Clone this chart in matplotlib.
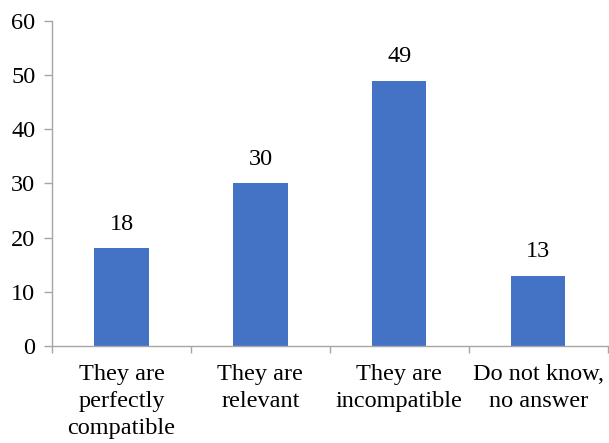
import matplotlib
matplotlib.use('Agg')
from matplotlib import pyplot as plt
import numpy as np

plt.rcParams['font.family'] = ['Liberation Serif', 'DejaVu Serif']

categories = ['They are\nperfectly\ncompatible', 'They are\nrelevant',
              'They are\nincompatible', 'Do not know,\nno answer']
values = [18, 30, 49, 13]
yticks = [0, 10, 20, 30, 40, 50, 60]

bar_color = '#4472C4'
axis_color = '#A6A6A6'
fs = 17.5

fig = plt.figure(figsize=(6.09, 4.43), dpi=100)
ax = fig.add_axes([0.0854, 0.219, 0.9126, 0.7336])

x = np.arange(len(categories))
ax.bar(x, values, width=0.39, color=bar_color, zorder=2)

# value labels above each bar
for xi, v in zip(x, values):
    ax.annotate(str(v), (xi, v), xytext=(0, 10), textcoords='offset points',
                ha='center', va='bottom', fontsize=fs)

ax.set_xlim(-0.5, len(categories) - 0.5)
ax.set_ylim(0, 60)
ax.set_yticks(yticks)
ax.set_xticks(x)
ax.set_xticklabels(categories, fontsize=fs, linespacing=1.38)
ax.set_xticks(np.arange(-0.5, len(categories)), minor=True)

ax.tick_params(axis='x', which='major', length=0, pad=13)
ax.tick_params(axis='x', which='minor', length=5, color=axis_color, width=1)
ax.tick_params(axis='y', length=6, color=axis_color, width=1, pad=6, labelsize=fs)

for s in ['top', 'right']:
    ax.spines[s].set_visible(False)
for s in ['left', 'bottom']:
    ax.spines[s].set_color(axis_color)
    ax.spines[s].set_linewidth(1)

fig.savefig('out.png', dpi=100)
